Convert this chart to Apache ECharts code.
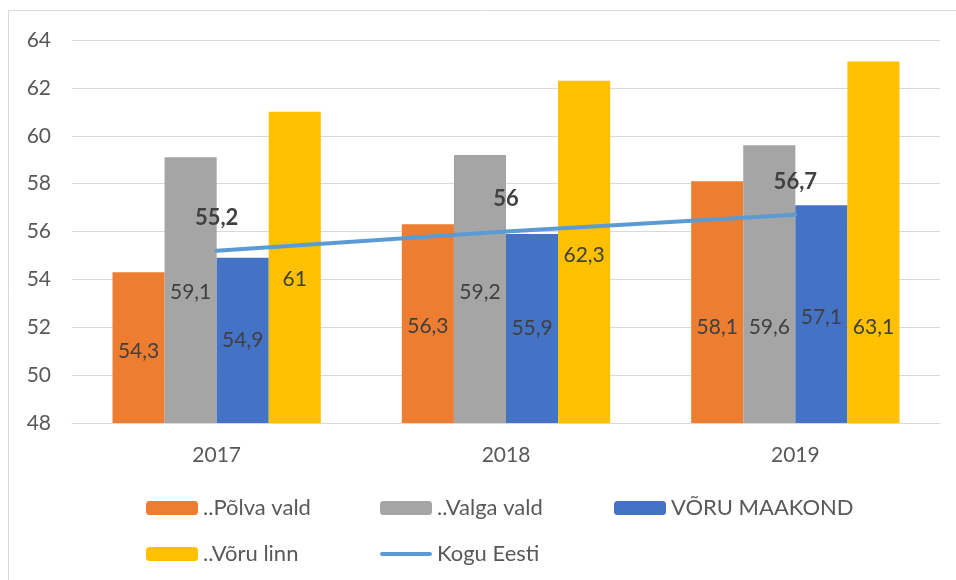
<!DOCTYPE html>
<html>
<head>
<meta charset="utf-8">
<script src="https://cdn.jsdelivr.net/npm/echarts@6/dist/echarts.min.js"></script>
<style>
html,body{margin:0;padding:0;background:#fff;}
#chart{width:956px;height:580px;}
</style>
</head>
<body>
<div id="chart"></div>
<script>
const years = ['2017', '2018', '2019'];
const polva = [54.3, 56.3, 58.1];
const valga = [59.1, 59.2, 59.6];
const voruMaakond = [54.9, 55.9, 57.1];
const voruLinn = [61, 62.3, 63.1];
const koguEesti = [55.2, 56, 56.7];
const yTicks = [48, 50, 52, 54, 56, 58, 60, 62, 64];

// label vertical shifts (style only), pixels downward from bar centre
const shiftPolva = [4, 3, 25];
const shiftValga = [2, 3, 43];
const shiftMaakond = [0, 0, 3];
const shiftLinn = [12, 3, 85];

const FONT = 'Lato';
const fmt = v => String(v).replace('.', ',');

function barSeries(name, values, color, shifts) {
  return {
    name: name,
    type: 'bar',
    barGap: '0%',
    barCategoryGap: '28%',
    itemStyle: { color: color },
    data: values.map((v, i) => ({
      value: v,
      label: { offset: [0, shifts[i]] }
    })),
    label: {
      show: true,
      position: 'inside',
      color: '#404040',
      fontFamily: FONT,
      fontSize: 21,
      formatter: p => fmt(p.value)
    }
  };
}

const chart = echarts.init(document.getElementById('chart'));
chart.setOption({
  animation: false,
  backgroundColor: '#fff',
  graphic: [{
    type: 'rect',
    shape: { x: 8.5, y: 10.5, width: 1000, height: 1000 },
    style: { fill: 'none', stroke: '#D9D9D9', lineWidth: 1 },
    silent: true
  }],
  grid: { left: 72, right: 16, top: 40, bottom: 157 },
  legend: {
    left: 141,
    top: 485,
    width: 710,
    itemWidth: 52,
    itemHeight: 14,
    itemGap: 10,
    textStyle: { color: '#595959', fontFamily: FONT, fontSize: 22, width: 167, lineHeight: 36 },
    data: [
      '..Põlva vald', '..Valga vald', 'VÕRU MAAKOND', '..Võru linn',
      { name: 'Kogu Eesti', icon: 'path://M2,0 H50 A2,2 0 0 1 50,4 H2 A2,2 0 0 1 2,0 Z' }
    ]
  },
  xAxis: {
    type: 'category',
    data: years,
    axisLine: { lineStyle: { color: '#D9D9D9', width: 1 } },
    axisTick: { show: false },
    axisLabel: { color: '#595959', fontFamily: FONT, fontSize: 21, margin: 22 }
  },
  yAxis: {
    type: 'value',
    min: yTicks[0],
    max: yTicks[yTicks.length - 1],
    interval: 2,
    axisLine: { show: false },
    axisTick: { show: false },
    splitLine: { lineStyle: { color: '#D9D9D9', width: 1 } },
    axisLabel: { color: '#595959', fontFamily: FONT, fontSize: 21, margin: 21 }
  },
  series: [
    barSeries('..Põlva vald', polva, '#ED7D31', shiftPolva),
    barSeries('..Valga vald', valga, '#A5A5A5', shiftValga),
    barSeries('VÕRU MAAKOND', voruMaakond, '#4472C4', shiftMaakond),
    barSeries('..Võru linn', voruLinn, '#FFC000', shiftLinn),
    {
      name: 'Kogu Eesti',
      type: 'line',
      data: koguEesti,
      symbol: 'circle',
      symbolSize: 1,
      showSymbol: true,
      z: 5,
      itemStyle: { color: '#5B9BD5' },
      lineStyle: { color: '#5B9BD5', width: 4, cap: 'round' },
      label: {
        show: true,
        position: 'top',
        distance: 21,
        color: '#404040',
        fontFamily: FONT,
        fontSize: 22,
        fontWeight: 'bold',
        formatter: p => fmt(p.value)
      }
    }
  ]
});
</script>
</body>
</html>
